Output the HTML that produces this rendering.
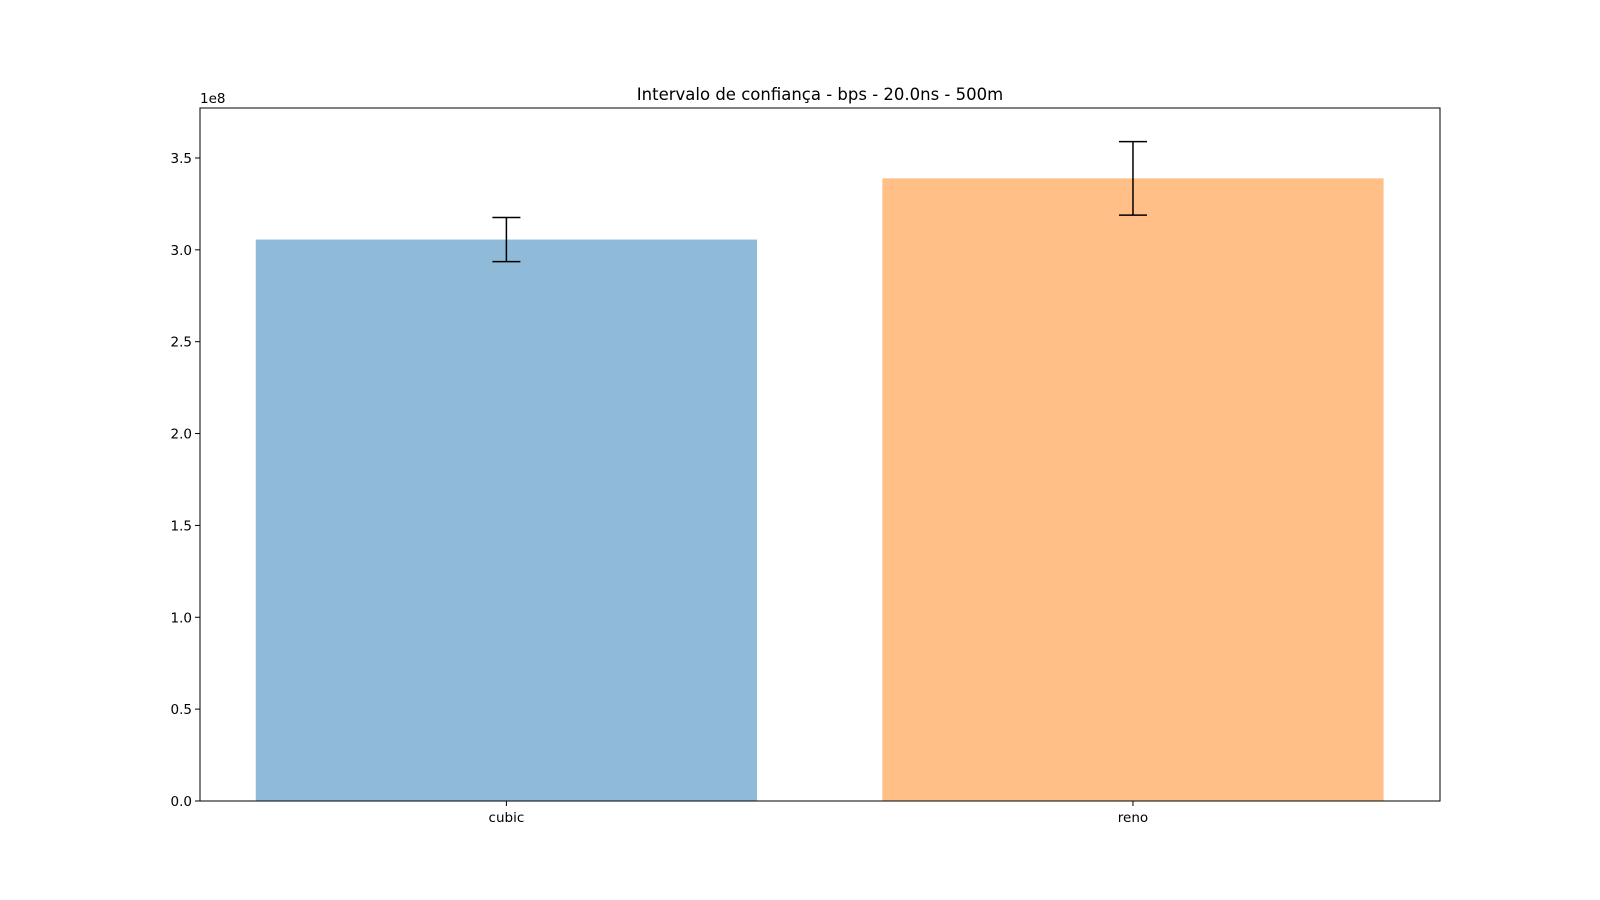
<!DOCTYPE html>
<html><head><meta charset="utf-8"><style>
html,body{margin:0;padding:0;background:#fff;}
svg{display:block;font-family:"DejaVu Sans","Liberation Sans",sans-serif;}
</style></head><body>
<svg id="chart" width="1600" height="900" viewBox="0 0 1600 900"></svg>
<script>
const categories = ["cubic", "reno"];
const values = [3.056e8, 3.389e8];
const errors = [0.12e8, 0.20e8];
const colors = ["#8fbbd9", "#ffbf86"];
const yTicks = [0, 0.5e8, 1.0e8, 1.5e8, 2.0e8, 2.5e8, 3.0e8, 3.5e8];
const yTickLabels = ["0.0","0.5","1.0","1.5","2.0","2.5","3.0","3.5"];

const L=200,R=1440,T=108,B=801;
const yMax=3.772e8, xMin=-0.489, xMax=1.49;
const ys=v=>B-(v/yMax)*(B-T);
const xs=v=>L+(v-xMin)/(xMax-xMin)*(R-L);
const NS="http://www.w3.org/2000/svg";
const svg=document.getElementById('chart');
function mk(tag,attrs,parent){const e=document.createElementNS(NS,tag);for(const k in attrs)e.setAttribute(k,attrs[k]);(parent||svg).appendChild(e);return e;}

categories.forEach((c,i)=>{
  const x0=xs(i-0.4),x1=xs(i+0.4);
  const r=mk('rect',{x:x0,y:ys(values[i]),width:x1-x0,height:B-ys(values[i]),fill:colors[i]});
  
  
  const cx=xs(i);
  const g=mk('g',{stroke:'#000','stroke-width':1.5});
  
  
  const yt=ys(values[i]+errors[i]),yb=ys(values[i]-errors[i]);
  mk('line',{x1:cx,x2:cx,y1:yt,y2:yb},g);
  mk('line',{x1:cx-14,x2:cx+14,y1:yt,y2:yt},g);
  mk('line',{x1:cx-14,x2:cx+14,y1:yb,y2:yb},g);
  mk('line',{x1:cx,x2:cx,y1:B,y2:B+5,stroke:'#000','stroke-width':1});
  const t=mk('text',{x:cx,y:B+21,'text-anchor':'middle','font-size':13.5,fill:'#000'});
  t.textContent=c;
  
  
});
yTicks.forEach((v,i)=>{
  const y=ys(v);
  mk('line',{x1:L-5,x2:L,y1:y,y2:y,stroke:'#000','stroke-width':1});
  const t=mk('text',{x:L-8,y:y+5,'text-anchor':'end','font-size':13.5,fill:'#000'});
  t.textContent=yTickLabels[i];
  
  
});
const frame=mk('rect',{x:L,y:T,width:R-L,height:B-T,fill:'none',stroke:'#000','stroke-width':1});


const off=mk('text',{x:L,y:T-5,'font-size':13.5,fill:'#000'});
off.textContent='1e8';


const title=mk('text',{x:(L+R)/2,y:T-8,'text-anchor':'middle','font-size':16.5,fill:'#000'});
title.textContent='Intervalo de confiança - bps - 20.0ns - 500m';


</script>
</body></html>
